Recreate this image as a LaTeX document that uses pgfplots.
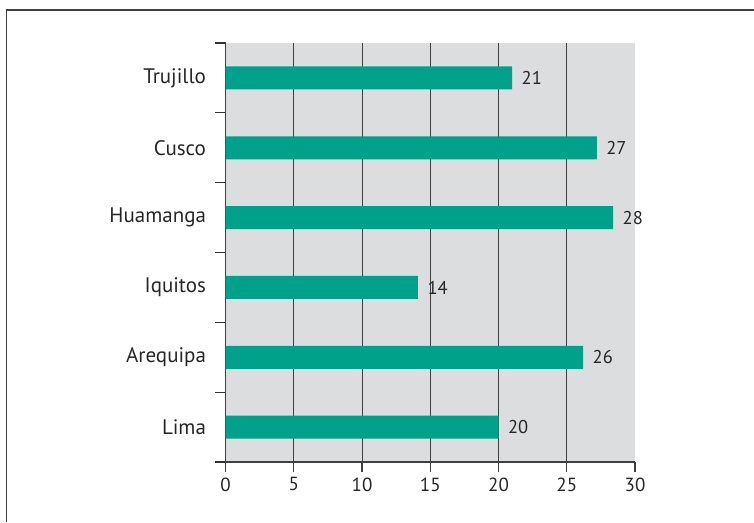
\documentclass[border=0pt]{standalone}
\usepackage{pgfplots}
\pgfplotsset{compat=1.18}
\usepackage{fontspec}
\setmainfont{PT Sans}
\definecolor{barc}{RGB}{0,161,138}
\definecolor{bgc}{RGB}{220,221,223}
\begin{document}
\begin{tikzpicture}[x=1pt,y=1pt]
\useasboundingbox (0,-522) rectangle (754,0);
\draw[line width=1.8pt, black!75] (6.5,-522) -- (6.5,-10) -- (754,-10);
\begin{axis}[
  at={(225.5pt,-462pt)}, anchor=south west,
  scale only axis, width=409.5pt, height=419pt,
  xmin=0, xmax=30, ymin=-0.5, ymax=5.5,
  axis x line*=bottom, axis y line*=left,
  axis line style={black!75, line width=1.1pt},
  axis background/.style={fill=bgc},
  xtick={0,5,...,25}, extra x ticks={30}, extra x tick style={grid=none},
  xmajorgrids, grid style={black!75, line width=0.9pt},
  ytick={0,...,5},
  yticklabels={Lima,Arequipa,Iquitos,Huamanga,Cusco,Trujillo},
  minor ytick={-0.5,0.5,...,5.5},
  tick align=outside,
  major x tick style={black!75, line width=1.1pt},
  major tick length=10pt,
  minor tick length=10pt,
  every major y tick/.style={draw=none},
  minor y tick style={black!80, line width=1.1pt},
  tick label style={font=\fontsize{19}{21}\selectfont, text=black!85},
  yticklabel style={font=\fontsize{21}{23}\selectfont, xshift=-6pt},
  xticklabel style={yshift=-2pt},
  /pgf/number format/assume math mode=true,
  xbar, bar width=23pt, bar shift=0pt,
  nodes near coords,
  nodes near coords style={font=\fontsize{18.5}{20}\selectfont, text=black!85, anchor=west, xshift=6pt,
    /pgf/number format/fixed, /pgf/number format/precision=0},
  clip=false,
]
\addplot[fill=barc, draw=none] coordinates {
  (20,0) (26.2,1) (14.1,2) (28.4,3) (27.2,4) (21,5)
};
\end{axis}
\end{tikzpicture}
\end{document}
